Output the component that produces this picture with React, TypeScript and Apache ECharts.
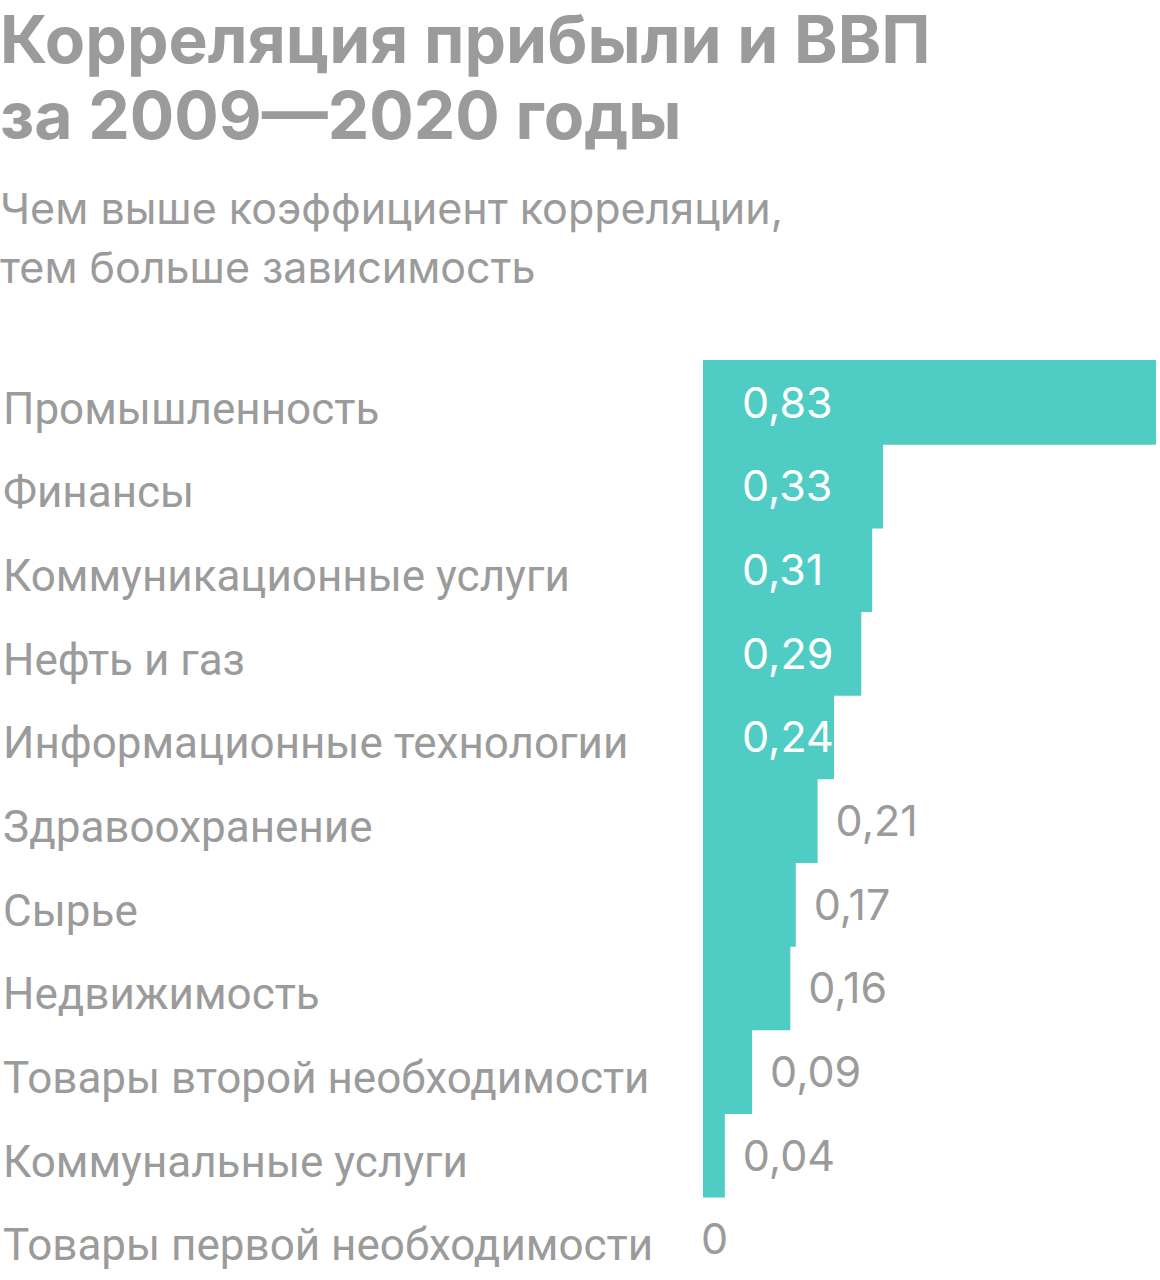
import React, { useEffect, useRef } from "react";
import * as echarts from "echarts";

const titleLines = ["Корреляция прибыли и ВВП", "за 2009—2020 годы"];
const subtitleLines = ["Чем выше коэффициент корреляции,", "тем больше зависимость"];

const categories = [
  "Промышленность",
  "Финансы",
  "Коммуникационные услуги",
  "Нефть и газ",
  "Информационные технологии",
  "Здравоохранение",
  "Сырье",
  "Недвижимость",
  "Товары второй необходимости",
  "Коммунальные услуги",
  "Товары первой необходимости",
];
const values = [0.83, 0.33, 0.31, 0.29, 0.24, 0.21, 0.17, 0.16, 0.09, 0.04, 0];
const insideThreshold = 0.24;

const GREY = "#9b9b9b";
const TEAL = "#4fcdc4";
const FONT = "Roboto, 'Noto Sans', sans-serif";
const FONT_WIDE = "Inter, Roboto, sans-serif";

export default function App() {
  const ref = useRef<HTMLDivElement>(null);
  useEffect(() => {
    if (!ref.current) return;
    const chart = echarts.init(ref.current, null, { renderer: "svg" });
    const fmt = (v: number) => String(v).replace(".", ",");
    const data = values.map((v) => {
      const inside = v >= insideThreshold;
      return {
        value: v,
        label: inside
          ? { position: "insideLeft", distance: 39, color: "#ffffff" }
          : { position: "right", distance: v === 0 ? -2 : 18, color: GREY },
      };
    });
    chart.setOption({
      animation: false,
      title: [
        {
          text: titleLines.join("\n"),
          left: 0,
          top: 1,
          padding: 0,
          textStyle: {
            fontSize: 66,
            fontWeight: "bold",
            lineHeight: 76,
            color: GREY,
            fontFamily: FONT_WIDE,
          },
        },
        {
          text: subtitleLines.join("\n"),
          left: 0,
          top: 178,
          padding: 0,
          textStyle: {
            fontSize: 43,
            fontWeight: "normal",
            lineHeight: 59,
            color: GREY,
            fontFamily: FONT_WIDE,
          },
        },
      ],
      grid: { left: 700, right: 4, top: 360, height: 924, containLabel: false },
      xAxis: {
        type: "value",
        min: 0,
        max: 0.83,
        show: false,
        splitLine: { show: false },
      },
      yAxis: {
        type: "category",
        inverse: true,
        data: categories,
        axisLine: { show: false },
        axisTick: { show: false },
        splitLine: { show: false },
        axisLabel: {
          align: "left",
          margin: 700,
          formatter: (v: string) => "{c|" + v + "}",
          rich: {
            c: {
              fontSize: 44,
              color: GREY,
              fontFamily: FONT,
              padding: [14, 0, 0, 0],
            },
          },
        },
      },
      series: [
        {
          type: "bar",
          data,
          barWidth: 86,
          itemStyle: { color: TEAL },
          label: {
            show: true,
            fontSize: 43,
            fontFamily: FONT_WIDE,
            formatter: (p: any) => fmt(p.value),
          },
        },
      ],
    });
    return () => chart.dispose();
  }, []);
  return (
    <div
      ref={ref}
      style={{ position: "absolute", left: 0, top: 0, width: 1160, height: 1280, background: "#fff" }}
    />
  );
}
